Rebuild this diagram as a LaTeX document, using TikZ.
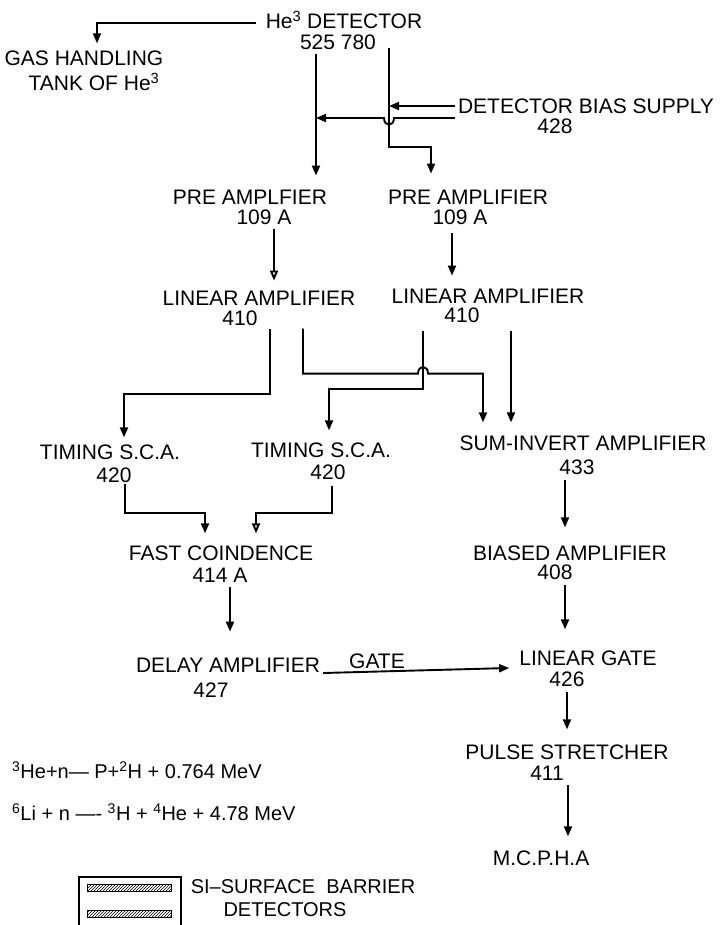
\documentclass[tikz,border=0pt]{standalone}
\usepackage{fontspec}
\setmainfont{Liberation Sans}
\usetikzlibrary{arrows.meta, patterns, calc}
\tikzset{
  lbl/.style={inner sep=0pt, font=\fontsize{21}{24}\selectfont},
  eqtext/.style={inner sep=0pt, anchor=west, font=\fontsize{20}{24}\selectfont},
  sig/.style={-{Triangle[length=10pt,width=8pt]}, line width=1.9pt},
  sigopen/.style={-{Triangle[open,length=10pt,width=8pt]}, line width=1.9pt},
}

\begin{document}
\begin{tikzpicture}[x=1pt, y=-1pt]
  \useasboundingbox (0,0) rectangle (721,925);

  % detector and its supplies
  \node[lbl] (det)   at (344,20)  {He\textsuperscript{3} DETECTOR};
  \node[lbl] (detn)  at (338,42)  {525 780};
  \node[lbl] (gas)   at (84,58)   {GAS HANDLING};
  \node[lbl] (tank)  at (94,82)   {TANK OF He\textsuperscript{3}};
  \node[lbl] (bias)  at (586,106) {DETECTOR BIAS SUPPLY};
  \node[lbl] (biasn) at (555,126) {428};

  % two channels
  \node[lbl] (pre1)  at (250,197) {PRE AMPLFIER};
  \node[lbl] (pre1n) at (264,217) {109 A};
  \node[lbl] (pre2)  at (468,197) {PRE AMPLIFIER};
  \node[lbl] (pre2n) at (460,217) {109 A};
  \node[lbl] (lin1)  at (259,298) {LINEAR AMPLIFIER};
  \node[lbl] (lin1n) at (240,318) {410};
  \node[lbl] (lin2)  at (488,296) {LINEAR AMPLIFIER};
  \node[lbl] (lin2n) at (462,315) {410};

  \node[lbl] (tsca1)  at (110,452) {TIMING S.C.A.};
  \node[lbl] (tsca1n) at (114,475) {420};
  \node[lbl] (tsca2)  at (321,450) {TIMING S.C.A.};
  \node[lbl] (tsca2n) at (328,472) {420};
  \node[lbl] (suminv)  at (583,443) {SUM-INVERT AMPLIFIER};
  \node[lbl] (suminvn) at (577,467) {433};

  \node[lbl] (fastco)  at (221,553) {FAST COINDENCE};
  \node[lbl] (fastcon) at (220,575) {414 A};
  \node[lbl] (biased)  at (570,553) {BIASED AMPLIFIER};
  \node[lbl] (biasedn) at (555,572) {408};
  \node[lbl] (delay)   at (228,665) {DELAY AMPLIFIER};
  \node[lbl] (delayn)  at (211,690) {427};
  \node[lbl] (gatelbl) at (377,661) {GATE};
  \node[lbl] (lgate)   at (588,658) {LINEAR GATE};
  \node[lbl] (lgaten)  at (567,679) {426};
  \node[lbl] (pulse)   at (567,752) {PULSE STRETCHER};
  \node[lbl] (pulsen)  at (547,773) {411};
  \node[lbl] (mcpha)   at (541,858) {M.C.P.H.A};

  % reactions
  \node[eqtext] (eq1) at (12,770) {\textsuperscript{3}He+n— P+\textsuperscript{2}H + 0.764 MeV};
  \node[eqtext] (eq2) at (12,812) {\textsuperscript{6}Li + n —- \textsuperscript{3}H + \textsuperscript{4}He + 4.78 MeV};

  % detector outputs
  \draw[sig, shorten >=7pt] ([xshift=-10pt,yshift=-3pt]det.west) -| ([xshift=13pt]gas.north);
  \draw[sig, shorten >=14pt] ([xshift=-22pt,yshift=-4pt]detn.south) coordinate (lv)
    -- ([xshift=-22pt]detn.south |- pre1.north);
  \draw[sig, shorten >=16pt] ([xshift=51pt,yshift=2pt]detn.south) coordinate (rv)
    -- ++(0,99) -| ([xshift=-37pt]pre2.north);
  \draw[sig] ([xshift=-3pt]bias.west) -- (bias.west -| rv);
  \path ([xshift=-3pt,yshift=-12pt]bias.west) coordinate (b2);
  \draw[sig] (b2) -- ([xshift=5pt]b2 -| rv)
    .. controls +(0,9) and +(0,9) .. ([xshift=-5pt]b2 -| rv) -- (b2 -| lv);

  % amplifiers
  \draw[sigopen, shorten >=10pt] ([xshift=10pt,yshift=-4pt]pre1n.south)
    -- ([xshift=10pt]pre1n.south |- lin1.north);
  \draw[sig, shorten >=13pt] ([xshift=-8pt,yshift=-8pt]pre2n.south)
    -- ([xshift=-8pt]pre2n.south |- lin2.north);

  \coordinate (l2a) at ([xshift=-39pt,yshift=-8pt]lin2n.south);
  \draw[sig, shorten >=7pt] ([xshift=30pt,yshift=-3pt]lin1n.south)
    -- ++(0,65) -| ([xshift=14pt]tsca1.north);
  \draw[sig, shorten >=13pt] ([xshift=63pt,yshift=-3pt]lin1n.south)
    -- ++(0,45) coordinate (hopc) -- ([xshift=-5pt]hopc -| l2a)
    .. controls +(0,-9) and +(0,-9) .. ([xshift=5pt]hopc -| l2a)
    -| ([xshift=-100pt]suminv.north);
  \draw[sig, shorten >=12pt] (l2a) -- ++(0,58) -| ([xshift=8pt]tsca2.north);
  \draw[sig, shorten >=13pt] ([xshift=49pt,yshift=-8pt]lin2n.south)
    -- ([xshift=49pt]lin2n.south |- suminv.north);

  % coincidence branch
  \draw[sig, shorten >=12pt] ([xshift=11pt,yshift=-1pt]tsca1n.south)
    -- ++(0,29) -| ([xshift=-16pt]fastco.north);
  \draw[sigopen, shorten >=12pt] ([xshift=4pt,yshift=-6pt]tsca2n.south)
    -- ++(0,27) -| ([xshift=35pt]fastco.north);
  \draw[sig, shorten >=26pt] ([xshift=10pt,yshift=-5pt]fastcon.south)
    -- ([xshift=10pt]fastcon.south |- delay.north);
  \draw[sig] ([xshift=3pt,yshift=-8pt]delay.east) -- ([xshift=-10pt,yshift=-10pt]lgate.west);

  % energy branch
  \foreach \a/\b/\dx/\g in {suminvn/biased/-12pt/18pt, biasedn/lgate/10pt/21pt,
                            lgaten/pulse/0pt/15pt, pulsen/mcpha/21pt/14pt} {
    \draw[sig, shorten >=\g] ([xshift=\dx,yshift=-5pt]\a.south) -- ([xshift=\dx]\a.south |- \b.north);
  }

  % detector sketch
  \node[lbl, font=\fontsize{20}{24}\selectfont] (si)   at (303,887) {SI--SURFACE\ \ BARRIER};
  \node[lbl, font=\fontsize{20}{24}\selectfont] (sidt) at (285,910) {DETECTORS};
  \draw[line width=1.4pt] (79,930) |- (181,877) -- (181,930);
  \draw[line width=1pt, pattern=north east lines] (87,884) rectangle (171,891);
  \draw[line width=1pt, pattern=north east lines] (87,910) rectangle (171,917);
\end{tikzpicture}
\end{document}
